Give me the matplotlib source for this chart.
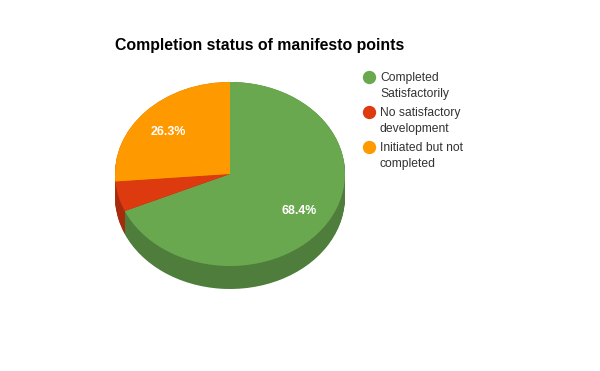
import matplotlib
matplotlib.use('Agg')
import matplotlib.pyplot as plt

# Data
labels = ['Completed\nSatisfactorily', 'No satisfactory\ndevelopment', 'Initiated but not\ncompleted']
values = [68.4, 5.3, 26.3]
pct_labels = ['68.4%', '', '26.3%']
colors = ['#6aa84f', '#dd3a10', '#ff9900']
dark_colors = ['#4f7d3b', '#a52b0c', '#bf7300']

W, H = 600, 371
plt.rcParams['font.family'] = ['Liberation Sans', 'DejaVu Sans']

fig = plt.figure(figsize=(W / 100, H / 100), dpi=100)

# pie area in pixels, ellipse is 230 wide and 184 tall, 23 deep
left, top, width, height = 115, 82, 230, 207
ax = fig.add_axes([left / W, 1 - (top + height) / H, width / W, height / H])
depth = 0.25

# side of the pie, stacked dark layers
for i in range(24):
    off = -depth * (23 - i) / 23
    ax.pie(values, colors=dark_colors, startangle=90, counterclock=False,
           center=(0, off), radius=1, frame=True)

ax.pie(values, colors=colors, startangle=90, counterclock=False, radius=1, frame=True)
ax.set_aspect('auto')
ax.set_xlim(-1, 1)
ax.set_ylim(-1 - depth, 1)
ax.axis('off')

# slice labels
ax_fig = fig.add_axes([0, 0, 1, 1])
ax_fig.set_xlim(0, W)
ax_fig.set_ylim(H, 0)
ax_fig.axis('off')
ax_fig.text(299.5, 214, pct_labels[0], color='white', fontsize=8.9, fontweight='bold', ha='center', va='baseline')
ax_fig.text(168, 135, pct_labels[2], color='white', fontsize=8.9, fontweight='bold', ha='center', va='baseline')

ax_fig.text(115, 50, 'Completion status of manifesto points', fontsize=11.45, fontweight='bold',
            color='black', ha='left', va='baseline')

# legend
legend_y = [77, 112, 147]
for lab, col, y in zip(labels, colors, legend_y):
    ax_fig.scatter([368.5], [y], s=92, color=col, linewidths=0)
    l1, l2 = lab.split('\n')
    ax_fig.text(380, y + 4, l1, fontsize=8.7, color='#333333', ha='left', va='baseline')
    ax_fig.text(380, y + 20, l2, fontsize=8.7, color='#333333', ha='left', va='baseline')

fig.savefig('out.png', dpi=100, facecolor='white')
